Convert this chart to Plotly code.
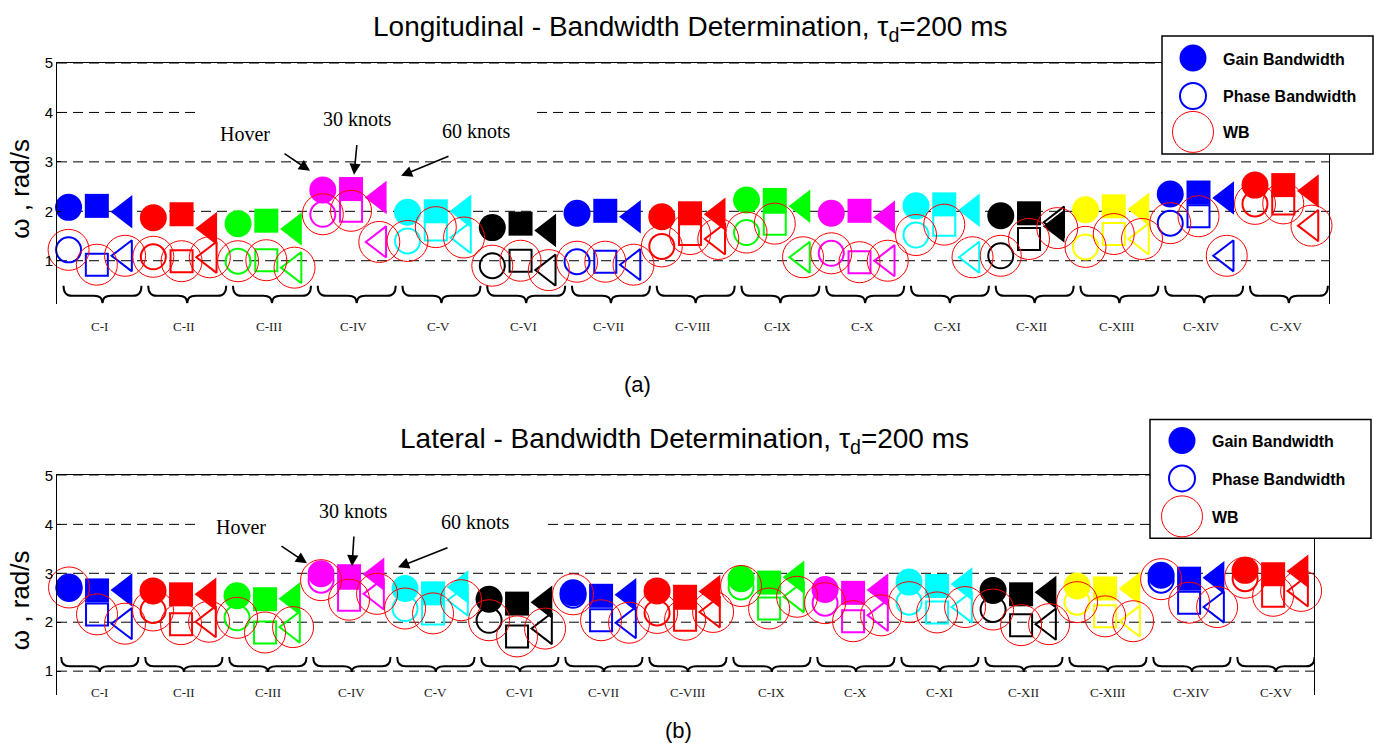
import plotly.graph_objects as go

W, H = 1374, 743

# ---------------- data ----------------
categories = ["C-I", "C-II", "C-III", "C-IV", "C-V", "C-VI", "C-VII", "C-VIII",
              "C-IX", "C-X", "C-XI", "C-XII", "C-XIII", "C-XIV", "C-XV"]
conditions = ["Hover", "30 knots", "60 knots"]
group_colors = ["#0000FF", "#FF0000", "#00FF00", "#FF00FF", "#00FFFF", "#000000",
                "#0000FF", "#FF0000", "#00FF00", "#FF00FF", "#00FFFF", "#000000",
                "#FFFF00", "#0000FF", "#FF0000"]

# Longitudinal (rad/s): per configuration -> Hover, 30 knots, 60 knots
gain_lon = [2.08, 2.11, 1.99, 1.87, 1.94, 1.65, 1.75, 1.81, 1.64, 2.43, 2.45, 2.28,
            1.98, 2.00, 2.00, 1.67, 1.75, 1.61, 1.96, 2.01, 1.89, 1.89, 1.96, 1.94,
            2.23, 2.23, 2.10, 1.96, 2.01, 1.88, 2.11, 2.14, 2.02, 1.91, 1.96, 1.70,
            2.03, 2.10, 2.04, 2.35, 2.38, 2.27, 2.53, 2.53, 2.41]
phase_lon = [1.22, 0.92, 1.10, 1.08, 0.99, 1.07, 0.99, 1.01, 0.86, 1.94, 2.01, 1.38,
             1.40, 1.63, 1.47, 0.90, 1.00, 0.81, 0.98, 0.98, 0.92, 1.29, 1.54, 1.44,
             1.57, 1.75, 1.07, 1.15, 0.97, 1.00, 1.52, 1.73, 1.07, 1.10, 1.44, 1.78,
             1.28, 1.54, 1.44, 1.76, 1.90, 1.10, 2.15, 2.16, 1.71]
wb_lon = [1.22, 0.92, 1.10, 1.08, 0.99, 1.07, 0.99, 1.01, 0.86, 1.94, 2.01, 1.38,
          1.40, 1.68, 1.47, 0.90, 1.00, 0.81, 0.98, 0.98, 0.92, 1.29, 1.54, 1.44,
          1.57, 1.75, 1.07, 1.15, 0.97, 1.00, 1.52, 1.73, 1.07, 1.10, 1.44, 1.66,
          1.28, 1.54, 1.44, 1.76, 1.90, 1.10, 2.15, 2.16, 1.71]

# Lateral (rad/s)
gain_lat = [2.72, 2.65, 2.66, 2.64, 2.57, 2.57, 2.54, 2.47, 2.48, 2.99, 2.94, 2.98,
            2.69, 2.59, 2.72, 2.47, 2.38, 2.41, 2.60, 2.54, 2.56, 2.64, 2.52, 2.63,
            2.89, 2.81, 2.92, 2.67, 2.60, 2.66, 2.82, 2.74, 2.78, 2.65, 2.57, 2.61,
            2.74, 2.69, 2.69, 2.96, 2.89, 2.91, 3.06, 2.98, 3.04]
phase_lat = [2.69, 2.16, 1.97, 2.24, 1.96, 2.01, 2.09, 1.79, 1.90, 2.86, 2.46, 2.58,
             2.28, 2.18, 2.45, 2.04, 1.71, 1.87, 2.55, 2.04, 1.99, 2.19, 2.05, 2.21,
             2.72, 2.28, 2.52, 2.39, 2.02, 2.14, 2.41, 2.20, 2.31, 2.26, 1.94, 1.96,
             2.41, 2.12, 2.02, 2.86, 2.40, 2.31, 2.89, 2.54, 2.64]
wb_lat = [2.71, 2.16, 1.97, 2.24, 1.96, 2.01, 2.09, 1.79, 1.90, 2.86, 2.46, 2.58,
          2.28, 2.18, 2.45, 2.04, 1.71, 1.87, 2.57, 2.04, 1.99, 2.19, 2.05, 2.21,
          2.74, 2.28, 2.52, 2.39, 2.02, 2.14, 2.41, 2.20, 2.31, 2.26, 1.94, 1.96,
          2.41, 2.12, 2.02, 2.88, 2.40, 2.31, 2.91, 2.54, 2.64]

y_ticks = [1, 2, 3, 4, 5]

# ---------------- helpers ----------------
SY, OY = 0.9893, 7.9   # compensation for the page capture's vertical offset


def px(x):
    return x / W


def py(y):
    return 1 - ((y - OY) / SY) / H


symbols = ["circle", "square", "triangle-left"]
sizes = [27, 24, 29]
osizes = [25, 22, 27]

xs, cols, syms, szs, osyms, oszs = [], [], [], [], [], []
for gi, cat in enumerate(categories):
    for ci, cond in enumerate(conditions):
        xs.append(gi * len(conditions) + ci + 1)
        cols.append(group_colors[gi])
        syms.append(symbols[ci])
        szs.append(sizes[ci])
        osyms.append(symbols[ci] + "-open")
        oszs.append(osizes[ci])
centers = [gi * len(conditions) + 2 for gi in range(len(categories))]

fig = go.Figure()


def add_panel(gain, phase, wb, xa, ya):
    fig.add_trace(go.Scatter(x=xs, y=gain, mode="markers", xaxis=xa, yaxis=ya,
                             cliponaxis=False, showlegend=False, hoverinfo="skip",
                             marker=dict(symbol=syms, color=cols, size=szs, opacity=1,
                                         line=dict(width=0))))
    fig.add_trace(go.Scatter(x=xs, y=phase, mode="markers", xaxis=xa, yaxis=ya,
                             cliponaxis=False, showlegend=False, hoverinfo="skip",
                             marker=dict(symbol=osyms, color=cols, size=oszs, opacity=1,
                                         line=dict(width=2, color=cols))))
    fig.add_trace(go.Scatter(x=xs, y=wb, mode="markers", xaxis=xa, yaxis=ya,
                             cliponaxis=False, showlegend=False, hoverinfo="skip",
                             marker=dict(symbol="circle-open", color="#FF0000", size=41,
                                         opacity=1, line=dict(width=1, color="#FF0000"))))


add_panel(gain_lon, phase_lon, wb_lon, "x", "y")
add_panel(gain_lat, phase_lat, wb_lat, "x2", "y2")

axis_common = dict(showgrid=False, zeroline=False, showticklabels=False, ticks="",
                   showline=True, side="top", linecolor="black", linewidth=1)
yaxis_common = dict(tickvals=y_ticks, showgrid=False, zeroline=False, showline=True,
                    mirror=True, linecolor="black", linewidth=1, ticks="inside", ticklen=4,
                    tickcolor="black", tickfont=dict(family="Liberation Sans, Arial", size=15,
                                                     color="black"))

fig.update_layout(
    width=W, height=H, margin=dict(l=0, r=0, t=0, b=0),
    paper_bgcolor="white", plot_bgcolor="rgba(0,0,0,0)", showlegend=False,
    xaxis=dict(domain=[px(57), px(1329)], range=[0.59, 45.62], anchor="y", **axis_common),
    yaxis=dict(domain=[py(303), py(62)], range=[0.131, 5], anchor="x", **yaxis_common),
    xaxis2=dict(domain=[px(57), px(1314)], range=[0.57, 45.46], anchor="y2", **axis_common),
    yaxis2=dict(domain=[py(695), py(475)], range=[0.51, 5], anchor="x2", **yaxis_common),
)

shapes = []
annotations = []

# dashed horizontal grid lines (the y=4 line is interrupted behind the flight labels)
grid_dash = "10px,6px"
for yr, left, right, gap in [("y", 57, 1329, (200, 537)), ("y2", 57, 1314, (195, 548))]:
    for t in y_ticks[:-1]:
        segs = [(left, right)] if t != 4 else [(left, gap[0]), (gap[1], right)]
        for a, b in segs:
            shapes.append(dict(type="line", xref="paper", yref=yr, x0=px(a), x1=px(b),
                               y0=t, y1=t, layer="below",
                               line=dict(color="black", width=1, dash=grid_dash)))
    shapes.append(dict(type="line", xref="paper", yref=yr, x0=px(left), x1=px(right),
                       y0=y_ticks[-1], y1=y_ticks[-1], layer="below",
                       line=dict(color="black", width=1, dash=grid_dash)))


def ann(text, x, y, font, xref="paper", xanchor="center", yanchor="middle", **kw):
    d = dict(text=text, xref=xref, yref="paper", x=x, y=y, showarrow=False,
             xanchor=xanchor, yanchor=yanchor, font=font)
    d.update(kw)
    annotations.append(d)


def brace(c, w, yt, ym, yb, d=0.3):
    return (f"M {c-w},{yt} Q {c-w},{ym} {c-w+d},{ym} L {c-d},{ym} "
            f"Q {c},{ym} {c},{yb} Q {c},{ym} {c+d},{ym} L {c+w-d},{ym} "
            f"Q {c+w},{ym} {c+w},{yt}")


label_font = dict(family="Liberation Serif, Times New Roman", size=13, color="#222")
for (xr, yr, yt, ym, yb, ylab, off) in [("x", "y", 0.495, 0.29, 0.14, 326, 0.2),
                                         ("x2", "y2", 1.29, 1.10, 0.985, 692, 0.1)]:
    for c, cat in zip(centers, categories):
        shapes.append(dict(type="path", xref=xr, yref=yr,
                           path=brace(c + off, 1.38, yt, ym, yb),
                           line=dict(color="black", width=2), layer="above"))
        ann(cat, c + 0.1, py(ylab), label_font, xref=xr)

sans = lambda s: dict(family="Liberation Sans, Arial", size=s, color="black")

# titles
ann("Longitudinal - Bandwidth Determination, τ<sub>d</sub>=200 ms", px(690), py(27), sans(28))
ann("Lateral - Bandwidth Determination, τ<sub>d</sub>=200 ms", px(684), py(440), sans(28))
for yc in [188, 600]:
    ann("ω , rad/s", px(20), py(yc), sans(26), textangle=-90)
ann("(a)", px(637), py(384), sans(22))
ann("(b)", px(678), py(730), sans(22))

# flight-condition annotations with arrows
serif = dict(family="Liberation Serif, Times New Roman", size=20, color="black")
ann_sets = [
    # (label, text center, arrow tail, arrow tip)
    [("Hover", (245, 133), (283, 152), (310, 170)),
     ("30 knots", (357, 118), (357, 143), (354, 174)),
     ("60 knots", (476, 130), (450, 155), (401, 175))],
    [("Hover", (241, 527), (280, 545), (307, 563)),
     ("30 knots", (353, 511), (354, 535), (352, 566)),
     ("60 knots", (475, 522), (449, 547), (398, 567))],
]
for s in ann_sets:
    for label, (tx, ty), (ax, ay), (hx, hy) in s:
        ann(label, px(tx), py(ty), serif)
        annotations.append(dict(text="", xref="paper", yref="paper", x=px(hx), y=py(hy),
                                ax=ax - hx, ay=(ay - hy) / SY, showarrow=True, arrowhead=2,
                                arrowsize=1.4, arrowwidth=1.6, arrowcolor="black"))

# custom legends
legend_labels = ["Gain Bandwidth", "Phase Bandwidth", "WB"]
legends = [
    dict(box=(1162, 35, 1373, 153), sx=1193, ys=[57, 95, 131], tx=1221),
    dict(box=(1150, 419, 1371, 538), sx=1182, ys=[440, 478, 516], tx=1210),
]
for lg in legends:
    x0, y0, x1, y1 = lg["box"]
    shapes.append(dict(type="rect", xref="paper", yref="paper", x0=px(x0), x1=px(x1),
                       y0=py(y1), y1=py(y0), fillcolor="white",
                       line=dict(color="black", width=1.5), layer="above"))
    sx = px(lg["sx"])
    styles = [
        dict(r=13.5, fill="#0000FF", lc="#0000FF", lw=0),
        dict(r=13, fill="rgba(0,0,0,0)", lc="#0000FF", lw=2),
        dict(r=20.5, fill="rgba(0,0,0,0)", lc="#FF0000", lw=1),
    ]
    for yy, st, lab in zip(lg["ys"], styles, legend_labels):
        shapes.append(dict(type="circle", xref="paper", yref="paper",
                           xsizemode="pixel", ysizemode="pixel",
                           xanchor=sx, yanchor=py(yy),
                           x0=-st["r"], x1=st["r"], y0=-st["r"], y1=st["r"],
                           fillcolor=st["fill"], line=dict(color=st["lc"], width=st["lw"]),
                           layer="above"))
        ann(f"<b>{lab}</b>", px(lg["tx"]), py(yy + 1), sans(16), xanchor="left")

fig.update_layout(shapes=shapes, annotations=annotations)

fig.write_html("out.html", config={"displayModeBar": False},
               post_script="document.body.style.margin='0';"
                           "document.documentElement.style.overflow='hidden';")
